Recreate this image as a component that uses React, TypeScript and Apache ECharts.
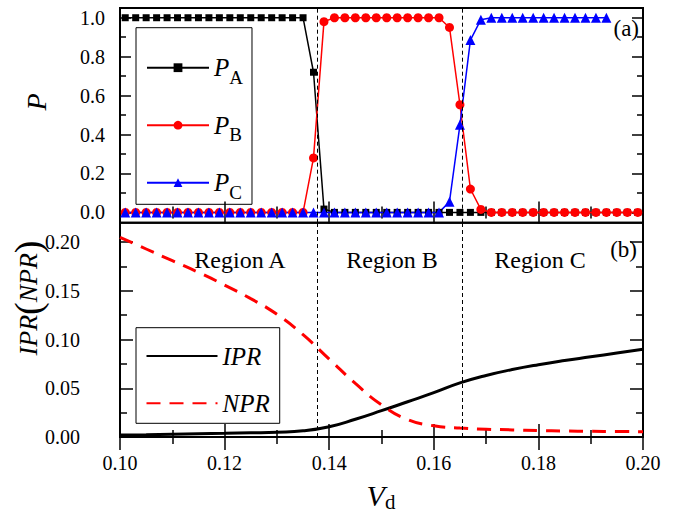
import React, { useEffect, useRef } from "react";
import * as echarts from "echarts";

// ---- data ----
const VD = [
  0.101, 0.103, 0.105, 0.107, 0.109, 0.111, 0.113, 0.115, 0.117, 0.119,
  0.121, 0.123, 0.125, 0.127, 0.129, 0.131, 0.133, 0.135, 0.137, 0.139,
  0.141, 0.143, 0.145, 0.147, 0.149, 0.151, 0.153, 0.155, 0.157, 0.159,
  0.161, 0.163, 0.165, 0.167, 0.169, 0.171, 0.173, 0.175, 0.177, 0.179,
  0.181, 0.183, 0.185, 0.187, 0.189, 0.191, 0.193, 0.195, 0.197, 0.199,
];
const P_A = [
  1, 1, 1, 1, 1, 1, 1, 1, 1, 1,
  1, 1, 1, 1, 1, 1, 1, 1, 0.72, 0.017,
  0, 0, 0, 0, 0, 0, 0, 0, 0, 0,
  0, 0, 0, 0, 0, 0, 0, 0, 0, 0,
  0, 0, 0, 0, 0, 0, 0, 0, 0, 0,
];
const P_B = [
  0, 0, 0, 0, 0, 0, 0, 0, 0, 0,
  0, 0, 0, 0, 0, 0, 0, 0, 0.28, 0.98,
  1, 1, 1, 1, 1, 1, 1, 1, 1, 1,
  1, 0.95, 0.553, 0.12, 0.015, 0, 0, 0, 0, 0,
  0, 0, 0, 0, 0, 0, 0, 0, 0, 0,
];
const P_C = [
  0, 0, 0, 0, 0, 0, 0, 0, 0, 0,
  0, 0, 0, 0, 0, 0, 0, 0, 0, 0,
  0, 0, 0, 0, 0, 0, 0, 0, 0, 0,
  0, 0.055, 0.45, 0.885, 0.99, 1, 1, 1, 1, 1,
  1, 1, 1, 1, 1, 1, 1,
];

const RX = [
  0.1, 0.105, 0.11, 0.115, 0.12, 0.125, 0.13, 0.135, 0.14, 0.145, 0.15,
  0.155, 0.16, 0.165, 0.17, 0.175, 0.18, 0.185, 0.19, 0.195, 0.2,
];
const IPR = [
  0.002, 0.0024, 0.0029, 0.0034, 0.0038, 0.0043, 0.0049, 0.0063, 0.0105, 0.0182, 0.027,
  0.0362, 0.0455, 0.0555, 0.0632, 0.0692, 0.0742, 0.0785, 0.0823, 0.0862, 0.09,
];
const NPR = [
  0.205, 0.193, 0.181, 0.169, 0.156, 0.142, 0.126, 0.105, 0.08, 0.055, 0.033,
  0.018, 0.0115, 0.0092, 0.008, 0.0073, 0.0067, 0.0062, 0.0058, 0.0056, 0.0055,
];

const BOUNDARIES = [0.1377, 0.1655];

const X_MAJOR = [0.1, 0.12, 0.14, 0.16, 0.18, 0.2];
const X_MINOR = [0.11, 0.13, 0.15, 0.17, 0.19];
const P_MAJOR = [0, 0.2, 0.4, 0.6, 0.8, 1.0];
const P_MINOR = [0.1, 0.3, 0.5, 0.7, 0.9];
const R_MAJOR = [0, 0.05, 0.1, 0.15, 0.2];
const R_MINOR = [0.025, 0.075, 0.125, 0.175];

const REGIONS = ["Region A", "Region B", "Region C"];

const FONT = "'Liberation Serif', 'Times New Roman', Times, serif";

function xAx(grid: number, pos: string, values: number[], len: number, labels: boolean) {
  return {
    type: "value",
    gridIndex: grid,
    position: pos,
    min: 0.1,
    max: 0.2,
    axisLine: { show: false },
    splitLine: { show: false },
    axisTick: {
      show: true,
      inside: true,
      length: len,
      customValues: values,
      lineStyle: { color: "#000", width: 1.5 },
    },
    axisLabel: labels
      ? {
          show: true,
          customValues: values,
          formatter: (v: number) => v.toFixed(2),
          fontFamily: FONT,
          fontSize: 20,
          color: "#000",
          margin: 16,
        }
      : { show: false },
  };
}

function yAx(
  grid: number,
  pos: string,
  min: number,
  max: number,
  values: number[],
  len: number,
  labels: boolean,
  digits: number,
  margin: number
) {
  return {
    type: "value",
    gridIndex: grid,
    position: pos,
    min,
    max,
    axisLine: { show: false },
    splitLine: { show: false },
    axisTick: {
      show: true,
      inside: true,
      length: len,
      customValues: values,
      lineStyle: { color: "#000", width: 1.5 },
    },
    axisLabel: labels
      ? {
          show: true,
          customValues: values,
          formatter: (v: number) => v.toFixed(digits),
          fontFamily: FONT,
          fontSize: 20,
          color: "#000",
          margin,
        }
      : { show: false },
  };
}

const boundaryLines = {
  silent: true,
  precision: 5,
  symbol: ["none", "none"],
  label: { show: false },
  lineStyle: { color: "#000", type: [4, 3], width: 1 },
  data: BOUNDARIES.map((b) => ({ xAxis: b })),
};

export default function App() {
  const ref = useRef<HTMLDivElement>(null);
  useEffect(() => {
    if (!ref.current) return;
    const chart = echarts.init(ref.current, undefined, { renderer: "svg" });
    const PMIN = -0.053;
    const PMAX = 1.05;
    const RMIN = 0;
    const RMAX = 0.22;
    const option: any = {
      animation: false,
      backgroundColor: "#fff",
      grid: [
        { left: 120, top: 8, width: 523, height: 214.7, show: true, borderColor: "#000", borderWidth: 2, backgroundColor: "transparent" },
        { left: 120, top: 222.7, width: 523, height: 214.3, show: true, borderColor: "#000", borderWidth: 2, backgroundColor: "transparent" },
      ],
      xAxis: [
        xAx(0, "bottom", X_MAJOR, 11, false),
        xAx(0, "bottom", X_MINOR, 6, false),
        xAx(0, "top", X_MAJOR, 11, false),
        xAx(0, "top", X_MINOR, 6, false),
        xAx(1, "bottom", X_MAJOR, 13, true),
        xAx(1, "bottom", X_MINOR, 7, false),
        xAx(1, "top", X_MAJOR, 13, false),
        xAx(1, "top", X_MINOR, 7, false),
      ],
      yAxis: [
        yAx(0, "left", PMIN, PMAX, P_MAJOR, 11, true, 1, 15),
        yAx(0, "left", PMIN, PMAX, P_MINOR, 6, false, 1, 15),
        yAx(0, "right", PMIN, PMAX, P_MAJOR, 11, false, 1, 15),
        yAx(0, "right", PMIN, PMAX, P_MINOR, 6, false, 1, 15),
        yAx(1, "left", RMIN, RMAX, R_MAJOR, 13, true, 2, 40),
        yAx(1, "left", RMIN, RMAX, R_MINOR, 7, false, 2, 40),
        yAx(1, "right", RMIN, RMAX, R_MAJOR, 13, false, 2, 40),
        yAx(1, "right", RMIN, RMAX, R_MINOR, 7, false, 2, 40),
      ],
      legend: [
        {
          left: 136,
          top: 27.7,
          orient: "vertical",
          data: ["PA", "PB", "PC"],
          itemWidth: 62,
          itemHeight: 11,
          itemGap: 19.5,
          padding: [21, 9, 2.6, 10],
          borderColor: "#000",
          borderWidth: 1,
          selectedMode: false,
          formatter: (name: string) => "{i|P}{s|" + name.slice(1) + "}",
          textStyle: {
            color: "#000",
            rich: {
              i: { fontFamily: FONT, fontStyle: "italic", fontSize: 25, lineHeight: 30, color: "#000" },
              s: { fontFamily: FONT, fontSize: 19, lineHeight: 19, padding: [19, 0, 0, 0], color: "#000" },
            },
          },
        },
        {
          left: 136,
          top: 327.7,
          orient: "vertical",
          data: ["IPR", "NPR"],
          itemWidth: 71,
          itemHeight: 14,
          itemGap: 17.3,
          padding: [13.3, 10, 5, 9.5],
          borderColor: "#000",
          borderWidth: 1,
          selectedMode: false,
          itemStyle: { opacity: 0 },
          textStyle: { color: "#000", fontFamily: FONT, fontStyle: "italic", fontSize: 25, lineHeight: 30 },
        },
      ],
      series: [
        {
          name: "PA",
          type: "line",
          xAxisIndex: 0,
          yAxisIndex: 0,
          data: VD.map((x, i) => [x, P_A[i]]),
          symbol: "rect",
          symbolSize: 7,
          lineStyle: { color: "#000", width: 1.5 },
          itemStyle: { color: "#000" },
          markLine: boundaryLines,
        },
        {
          name: "PB",
          type: "line",
          xAxisIndex: 0,
          yAxisIndex: 0,
          data: VD.map((x, i) => [x, P_B[i]]),
          symbol: "circle",
          symbolSize: 9,
          lineStyle: { color: "#ff0000", width: 1.5 },
          itemStyle: { color: "#ff0000" },
        },
        {
          name: "PC",
          type: "line",
          xAxisIndex: 0,
          yAxisIndex: 0,
          data: P_C.map((y, i) => [VD[i], y]),
          symbol: "triangle",
          symbolSize: 10,
          lineStyle: { color: "#0000ff", width: 1.5 },
          itemStyle: { color: "#0000ff" },
        },
        {
          name: "IPR",
          type: "line",
          xAxisIndex: 4,
          yAxisIndex: 4,
          data: RX.map((x, i) => [x, IPR[i]]),
          symbol: "none",
          smooth: true,
          lineStyle: { color: "#000", width: 3 },
          itemStyle: { color: "#000" },
          markLine: boundaryLines,
        },
        {
          name: "NPR",
          type: "line",
          xAxisIndex: 4,
          yAxisIndex: 4,
          data: RX.map((x, i) => [x, NPR[i]]),
          symbol: "none",
          smooth: true,
          lineStyle: { color: "#ff0000", width: 3, type: [14, 9] },
          itemStyle: { color: "#ff0000" },
        },
      ],
      graphic: [
        {
          type: "text",
          x: 36,
          y: 102,
          rotation: Math.PI / 2,
          style: { text: "P", fontFamily: FONT, fontStyle: "italic", fontSize: 28, fill: "#000", align: "center", verticalAlign: "middle" },
        },
        {
          type: "text",
          x: 28,
          y: 298,
          rotation: Math.PI / 2,
          style: {
            text: "{i|IPR}{p|(}{i|NPR}{p|)}",
            fill: "#000",
            align: "center",
            verticalAlign: "middle",
            rich: {
              i: { fontFamily: FONT, fontStyle: "italic", fontSize: 26, fill: "#000" },
              p: { fontFamily: FONT, fontSize: 38, fill: "#000" },
            },
          },
        },
        {
          type: "text",
          x: 381,
          y: 495,
          style: {
            text: "{v|V}{d|d}",
            fill: "#000",
            align: "center",
            verticalAlign: "middle",
            rich: {
              v: { fontFamily: FONT, fontStyle: "italic", fontSize: 30, lineHeight: 32, fill: "#000" },
              d: { fontFamily: FONT, fontSize: 21, lineHeight: 21, padding: [14, 0, 0, 0], fill: "#000" },
            },
          },
        },
        { type: "text", x: 240, y: 260, style: { text: REGIONS[0], fontFamily: FONT, fontSize: 24, fill: "#000", align: "center", verticalAlign: "middle" } },
        { type: "text", x: 392, y: 260, style: { text: REGIONS[1], fontFamily: FONT, fontSize: 24, fill: "#000", align: "center", verticalAlign: "middle" } },
        { type: "text", x: 540, y: 260, style: { text: REGIONS[2], fontFamily: FONT, fontSize: 24, fill: "#000", align: "center", verticalAlign: "middle" } },
        { type: "text", x: 639, y: 28, style: { text: "(a)", fontFamily: FONT, fontSize: 23, fill: "#000", align: "right", verticalAlign: "middle" } },
        { type: "text", x: 637, y: 249, style: { text: "(b)", fontFamily: FONT, fontSize: 23, fill: "#000", align: "right", verticalAlign: "middle" } },
      ],
    };
    chart.setOption(option);
    return () => chart.dispose();
  }, []);
  return <div ref={ref} style={{ position: "fixed", left: 0, top: 0, width: 689, height: 514 }} />;
}
